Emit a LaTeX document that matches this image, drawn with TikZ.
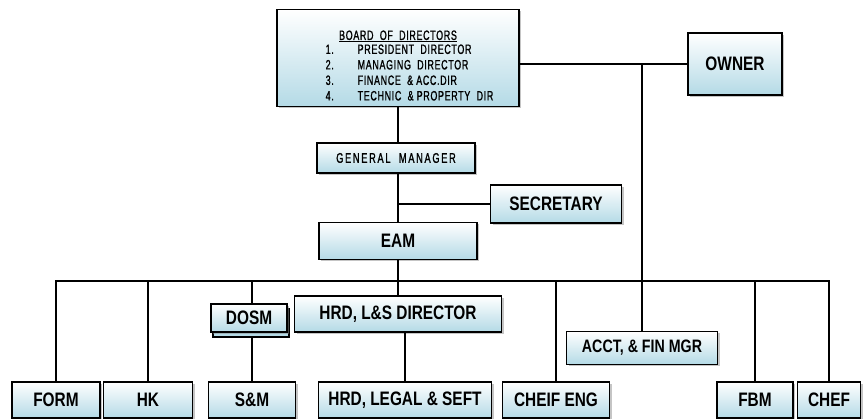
\documentclass[tikz,border=0pt]{standalone}
\usepackage{fontspec}
\setmainfont{Liberation Sans}
\newfontfamily\narrowfont[FakeStretch=0.66,LetterSpace=5,FakeBold=1.2]{Liberation Sans}
\newfontfamily\boxfont[FakeStretch=0.79]{Liberation Sans}
\usepackage{xcolor}
\definecolor{boxblue}{HTML}{B4DAE6}
\usetikzlibrary{shadows,calc}
\tikzset{
  orgbox/.style={draw=black,line width=1.4pt,top color=white,bottom color=boxblue,
    drop shadow={shadow xshift=2pt,shadow yshift=-2pt,fill=black!45},
    inner sep=2pt,align=center,font=\boxfont\bfseries\fontsize{19.5}{22}\selectfont},
  orgnarrow/.style={font=\narrowfont\fontsize{13.5}{15.5}\selectfont},
  orgline/.style={line width=1.8pt,black}
}
\begin{document}
\begin{tikzpicture}[x=1pt,y=-1pt]
\useasboundingbox (0,0) rectangle (863,419);
% top level
\node[orgbox,orgnarrow,inner ysep=0pt,minimum width=242,minimum height=97] (board) at (398,58)
  {\rule{0pt}{29pt}\underline{BOARD\ \ OF\ \ DIRECTORS}\\[0pt]
   \hspace*{23pt}\begin{tabular}{@{}p{32pt}@{}l@{}}
   1. & PRESIDENT\ \ DIRECTOR\\
   2. & MANAGING\ \ DIRECTOR\\
   3. & FINANCE\ \ \& ACC.DIR\\
   4. & TECHNIC\ \ \& PROPERTY\ \ DIR
   \end{tabular}};
\node[orgbox,minimum width=94,minimum height=62] (owner) at (735,64) {OWNER};
\node[orgbox,orgnarrow,minimum width=158,minimum height=30,
  font=\narrowfont\addfontfeature{LetterSpace=12}\fontsize{14}{16}\selectfont] (gm) at (396,158) {GENERAL\ \ MANAGER};
\node[orgbox,minimum width=131,minimum height=38] (sec) at (556,204) {SECRETARY};
\node[orgbox,minimum width=158,minimum height=37] (eam) at (398,241) {EAM};
\coordinate (bus) at (0,281);
% middle level
\node[draw=black,line width=1.4pt,fill=boxblue,minimum width=76,minimum height=28] (dosmback) at (251,323) {};
\node[orgbox,minimum width=76,minimum height=28] (dosm) at (249,318) {DOSM};
\node[orgbox,minimum width=207,minimum height=36] (hrdls) at (398,314) {HRD, L\&S DIRECTOR};
\node[orgbox,minimum width=151,minimum height=33,font=\boxfont\bfseries\fontsize{18}{20}\selectfont] (acct) at (642,348) {ACCT, \& FIN MGR};
% bottom level
\node[orgbox,minimum width=88,minimum height=36] (form) at (56,400) {FORM};
\node[orgbox,minimum width=89,minimum height=36] (hk) at (148,400) {HK};
\node[orgbox,minimum width=87,minimum height=36] (sm) at (252,400) {S\&M};
\node[orgbox,minimum width=173,minimum height=36] (hrdlegal) at (405,400) {HRD, LEGAL \& SEFT};
\node[orgbox,minimum width=107,minimum height=36] (eng) at (556,400) {CHEIF ENG};
\node[orgbox,minimum width=76,minimum height=36] (fbm) at (755,400) {FBM};
\node[orgbox,minimum width=63,minimum height=36] (chef) at (829,400) {CHEF};
% connectors
\draw[orgline] (board.east |- owner) -- (owner.west);
\draw[orgline] (acct.north |- owner) -- (acct.north);
\draw[orgline] (board) -- (board |- gm.north);
\draw[orgline] (board |- gm.south) -- (board |- eam.north);
\draw[orgline] (board |- sec.west) -- (sec.west);
\draw[orgline] (eam) -- (hrdls);
\draw[orgline] (form.north) |- (chef.north |- bus) -- (chef.north);
\foreach \n in {hk,eng,fbm}
  \draw[orgline] (\n.north) -- (\n.north |- bus);
\draw[orgline] (sm.north |- bus) -- (sm.north |- dosm.north);
\draw[orgline] (sm.north) -- (sm.north |- dosmback.south);
\draw[orgline] (hrdlegal.north) -- (hrdlegal.north |- hrdls.south);
\end{tikzpicture}
\end{document}
